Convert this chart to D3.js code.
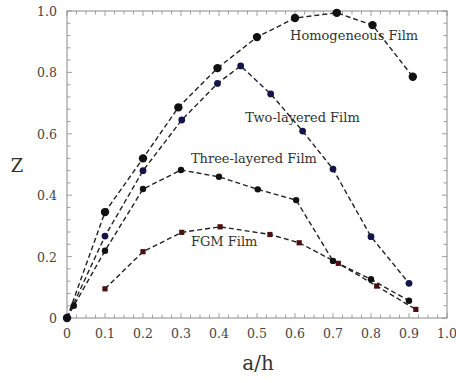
<!DOCTYPE html>
<html>
<head>
<meta charset="utf-8">
<script src="https://cdn.jsdelivr.net/npm/d3@7"></script>
<style>
  body { margin: 0; background: #fff; }
</style>
</head>
<body>
<svg id="chart"></svg>
<script>
// values: [a/h, Z]
var homogeneous = [[0, 0], [0.1, 0.345], [0.2, 0.52], [0.293, 0.686], [0.396, 0.814], [0.5, 0.915], [0.6, 0.977], [0.71, 0.994], [0.804, 0.954], [0.91, 0.786]];
var twoLayered = [[0, 0], [0.1, 0.267], [0.2, 0.48], [0.302, 0.645], [0.396, 0.764], [0.457, 0.821], [0.536, 0.73], [0.62, 0.609], [0.70, 0.485], [0.80, 0.265], [0.90, 0.113]];
var threeLayered = [[0, 0], [0.018, 0.04], [0.1, 0.219], [0.2, 0.42], [0.30, 0.482], [0.40, 0.46], [0.502, 0.419], [0.603, 0.384], [0.70, 0.186], [0.80, 0.126], [0.90, 0.056]];
var fgm = [[0.1, 0.095], [0.2, 0.216], [0.302, 0.279], [0.403, 0.297], [0.534, 0.272], [0.611, 0.245], [0.714, 0.178], [0.815, 0.104], [0.918, 0.028]];

var xTicks = [0, 0.1, 0.2, 0.3, 0.4, 0.5, 0.6, 0.7, 0.8, 0.9, 1.0];
var xTickLabels = ["0", "0.1", "0.2", "0.3", "0.4", "0.5", "0.6", "0.7", "0.8", "0.9", "1.0"];
var yTicks = [0, 0.2, 0.4, 0.6, 0.8, 1.0];
var yTickLabels = ["0", "0.2", "0.4", "0.6", "0.8", "1.0"];

var labels = [
    {text: "Homogeneous Film", x: 0.587, y: 0.905},
    {text: "Two-layered Film", x: 0.469, y: 0.638},
    {text: "Three-layered Film", x: 0.326, y: 0.504},
    {text: "FGM Film", x: 0.326, y: 0.236}
];

var width = 456,
    height = 383;

var serif = "'DejaVu Serif', serif";

var svg = d3.select("#chart")
    .attr("width", width)
    .attr("height", height);

var x = d3.scaleLinear().domain([0, 1]).range([67, 447]);
var y = d3.scaleLinear().domain([0, 1]).range([318, 11]);

var frameColor = "#8a8a8a";

// frame
svg.append("rect")
    .attr("x", x(0))
    .attr("y", y(1))
    .attr("width", x(1) - x(0))
    .attr("height", y(0) - y(1))
    .attr("fill", "none")
    .attr("stroke", frameColor)
    .attr("stroke-width", 1);

// minor/major ticks on all four sides, pointing inward
var xMinor = d3.range(0, 1.0001, 0.025);
var yMinor = d3.range(0, 1.0001, 0.04);

function tickLen(v, step) {
    return Math.abs(v / step - Math.round(v / step)) < 1e-6 ? 5 : 3.5;
}

var ticks = svg.append("g").attr("stroke", frameColor).attr("stroke-width", 0.8);
xMinor.forEach(function(v) {
    var len = tickLen(v, 0.1);
    ticks.append("line").attr("x1", x(v)).attr("x2", x(v)).attr("y1", y(0)).attr("y2", y(0) - len);
    ticks.append("line").attr("x1", x(v)).attr("x2", x(v)).attr("y1", y(1)).attr("y2", y(1) + len);
});
yMinor.forEach(function(v) {
    var len = tickLen(v, 0.2);
    ticks.append("line").attr("y1", y(v)).attr("y2", y(v)).attr("x1", x(0)).attr("x2", x(0) + len);
    ticks.append("line").attr("y1", y(v)).attr("y2", y(v)).attr("x1", x(1)).attr("x2", x(1) - len);
});

// tick labels
svg.append("g").selectAll("text")
    .data(xTicks)
    .enter().append("text")
    .attr("x", function(d) { return x(d); })
    .attr("y", y(0) + 20)
    .attr("text-anchor", "middle")
    .attr("font-family", serif)
    .attr("font-size", 12.5)
    .attr("fill", "#444")
    .text(function(d, i) { return xTickLabels[i]; });

svg.append("g").selectAll("text")
    .data(yTicks)
    .enter().append("text")
    .attr("x", x(0) - 10)
    .attr("y", function(d) { return y(d) + 5; })
    .attr("text-anchor", "end")
    .attr("font-family", serif)
    .attr("font-size", 12.5)
    .attr("fill", "#444")
    .text(function(d, i) { return yTickLabels[i]; });

// axis titles
svg.append("text")
    .attr("x", 17)
    .attr("y", 172)
    .attr("text-anchor", "middle")
    .attr("font-family", serif)
    .attr("font-size", 18)
    .attr("fill", "#333")
    .text("Z");

svg.append("text")
    .attr("x", 258)
    .attr("y", 370)
    .attr("text-anchor", "middle")
    .attr("font-family", serif)
    .attr("font-size", 20)
    .attr("fill", "#333")
    .text("a/h");

// series
var line = d3.line()
    .x(function(d) { return x(d[0]); })
    .y(function(d) { return y(d[1]); });

var series = [
    {data: homogeneous, shape: "circle", r: 4.2, color: "#111"},
    {data: twoLayered, shape: "circle", r: 3.4, color: "#14144a"},
    {data: threeLayered, shape: "circle", r: 3.2, color: "#111"},
    {data: fgm, shape: "square", r: 2.6, color: "#4a1010"}
];

series.forEach(function(s) {
    svg.append("path")
        .datum(s.data)
        .attr("d", line)
        .attr("fill", "none")
        .attr("stroke", "#222")
        .attr("stroke-width", 1.4)
        .attr("stroke-dasharray", "5,3");
});

series.forEach(function(s) {
    var g = svg.append("g").attr("fill", s.color);
    if (s.shape == "circle") {
        g.selectAll("circle")
            .data(s.data)
            .enter().append("circle")
            .attr("cx", function(d) { return x(d[0]); })
            .attr("cy", function(d) { return y(d[1]); })
            .attr("r", s.r);
    } else {
        g.selectAll("rect")
            .data(s.data)
            .enter().append("rect")
            .attr("x", function(d) { return x(d[0]) - s.r; })
            .attr("y", function(d) { return y(d[1]) - s.r; })
            .attr("width", s.r * 2)
            .attr("height", s.r * 2);
    }
});

// curve labels
svg.append("g").selectAll("text")
    .data(labels)
    .enter().append("text")
    .attr("x", function(d) { return x(d.x); })
    .attr("y", function(d) { return y(d.y); })
    .attr("font-family", serif)
    .attr("font-size", 13)
    .attr("fill", "#333")
    .text(function(d) { return d.text; });
</script>
</body>
</html>
